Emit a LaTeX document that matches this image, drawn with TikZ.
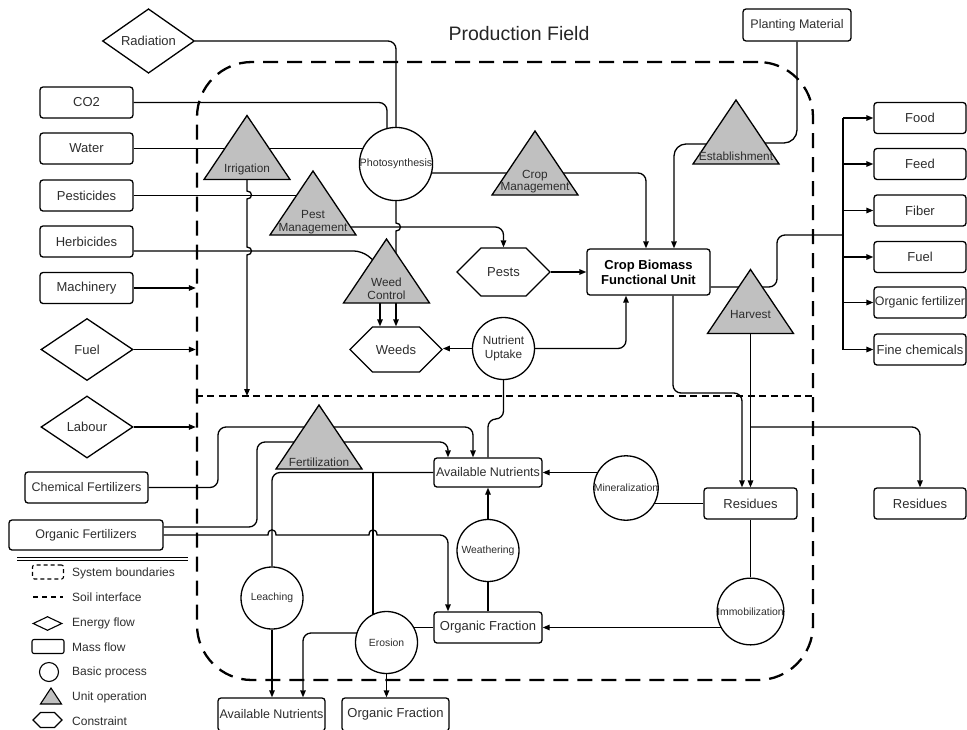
\documentclass[tikz,border=0pt]{standalone}
\usepackage{fontspec}
\setmainfont{Liberation Sans}
\usetikzlibrary{shapes.geometric,shapes.symbols,arrows.meta}
\pgfdeclarelayer{bg}
\pgfsetlayers{bg,main}
\definecolor{unitgray}{RGB}{192,192,192}
\definecolor{txt}{RGB}{45,45,45}

\tikzset{
  fs/.style 2 args={font=\fontsize{#1}{#2}\selectfont},
  base/.style={draw, line width=1.3pt, fill=white, inner sep=0pt, text=txt, align=center},
  mass/.style={base, rectangle, rounded corners=3pt, minimum width=93pt, minimum height=31pt, fs={13}{15}},
  energy/.style={base, diamond, minimum width=92pt, minimum height=62pt, fs={13}{15}},
  proc/.style={base, circle, minimum size=62pt, fs={10.4}{12}},
  cons/.style={base, signal, signal to=west and east, signal pointer angle=90,
    minimum width=93pt, minimum height=47pt, fs={13}{15}},
  unitop/.style={inner sep=0pt, minimum width=89pt, minimum height=67pt,
    path picture={\draw[line width=1.3pt, fill=unitgray]
      ([shift={(1.5pt,1.5pt)}]path picture bounding box.south west) --
      ([shift={(-1.5pt,1.5pt)}]path picture bounding box.south east) --
      ([yshift=-1.5pt]path picture bounding box.north) -- cycle;}},
  ulabel/.style={fs={11.8}{12.6}, text=txt, align=center, inner sep=0pt},
  conn/.style={line width=1.3pt, rounded corners=8pt},
  arr/.style={conn, -{Triangle[length=7pt,width=5.5pt]}},
  legtxt/.style={anchor=west, inner sep=0pt, text=txt, fs={12}{14}},
  legsym/.style={base, line width=1.1pt},
}

\begin{document}
\begin{tikzpicture}[x=1pt,y=-1pt]
\useasboundingbox (0,0) rectangle (967,729);

% title and system boundary
\node[fs={19.5}{22}, text=black!85] (title) at (519,34) {Production Field};
\node[draw, line width=2.3pt, dash pattern=on 15pt off 9pt, rounded corners=55pt,
      minimum width=616pt, minimum height=618pt, inner sep=0pt] (sys) at (505,371) {};
\coordinate (soilL) at (sys.west |- 0,396);
\coordinate (soilR) at (sys.east |- 0,396);
\draw[line width=1.4pt, dash pattern=on 7pt off 4.5pt] (soilL) -- (soilR);

% inputs
\node[energy] (rad) at (148.5,41) {Radiation};
\node[mass] (co2) at (86.5,102.5) {CO2};
\node[mass] (water) at (86.5,148.5) {Water};
\node[mass] (pest) at (86.5,195.5) {Pesticides};
\node[mass] (herb) at (86.5,241.5) {Herbicides};
\node[mass] (mach) at (86.5,288) {Machinery};
\node[energy] (fuel) at (87,349.5) {Fuel};
\node[energy] (labour) at (87,427) {Labour};
\node[mass, minimum width=123pt, fs={12.5}{14}] (chemF) at (86.5,487.5) {Chemical Fertilizers};
\node[mass, minimum width=154pt, minimum height=30pt, fs={12.5}{14}] (orgF) at (86,535) {Organic Fertilizers};
\node[mass, minimum width=108pt, minimum height=32pt, fs={12.5}{14}] (plant) at (797,25) {Planting Material};

% unit operations
\node[unitop, label={[ulabel,yshift=-21.5pt]center:Irrigation}] (irr) at (247,147.5) {};
\node[unitop, label={[ulabel,yshift=-19pt]center:{Pest\\Management}}] (pm) at (313,203) {};
\node[unitop, label={[ulabel,yshift=-18.5pt]center:{Crop\\Management}}] (cm) at (535,163) {};
\node[unitop, label={[ulabel,yshift=-18pt]center:{Weed\\Control}}] (wc) at (386.5,271) {};
\node[unitop, label={[ulabel,yshift=-24pt]center:Establishment}] (estab) at (736,132) {};
\node[unitop, label={[ulabel,yshift=-12.5pt]center:Harvest}] (harv) at (750.5,301.5) {};
\node[unitop, label={[ulabel,yshift=-25pt]center:Fertilization}] (fert) at (319,437) {};

% processes
\node[proc, fs={10.7}{12}] (photo) at (396,164) {Photosynthesis};
\node[proc, fs={11.8}{13.3}] (uptake) at (503.5,348.5) {Nutrient\\Uptake};
\node[proc] (mineral) at (626,488) {Mineralization};
\node[proc] (weather) at (488,550.5) {Weathering};
\node[proc] (leach) at (272,598) {Leaching};
\node[proc] (erosion) at (386.5,642.5) {Erosion};
\node[proc] (immo) at (750.5,611.5) {Immobilization};

% constraints
\node[cons, minimum height=48pt] (pests) at (503.5,272) {Pests};
\node[cons, minimum width=92pt, minimum height=45pt] (weeds) at (396,349.5) {Weeds};

% crop and soil pools
\node[base, rectangle, rounded corners=3pt, minimum width=123pt, minimum height=46pt,
      font=\fontsize{13}{15}\selectfont\bfseries, text=black] (cbu) at (648.5,272) {Crop Biomass\\Functional Unit};
\node[mass, minimum width=108pt, minimum height=29pt, fs={12.5}{14}] (avail) at (488,472.5) {Available Nutrients};
\node[mass, minimum width=108pt] (orgfrac) at (488,627.5) {Organic Fraction};
\node[mass] (resid) at (750.5,503.5) {Residues};
\node[mass, minimum width=92pt] (residR) at (920,503.5) {Residues};
\node[mass, minimum width=107pt, minimum height=33pt, fs={12.5}{14}] (availB) at (271.5,714.5) {Available Nutrients};
\node[mass, minimum width=107pt, minimum height=33pt] (orgfracB) at (395.5,714.5) {Organic Fraction};

% products
\node[mass, minimum width=92pt] (food) at (920,118) {Food};
\node[mass, minimum width=92pt] (feed) at (920,164) {Feed};
\node[mass, minimum width=92pt] (fiber) at (920,210.5) {Fiber};
\node[mass, minimum width=92pt] (fuelo) at (920,257) {Fuel};
\node[mass, minimum width=92pt, fs={12.4}{14}] (orgfert) at (920,302.5) {Organic fertilizer};
\node[mass, minimum width=92pt] (fine) at (920,349.5) {Fine chemicals};
\coordinate (tx) at (843,0);

% flows
\begin{pgfonlayer}{bg}
  \draw[conn] (rad.east) -| (photo.center);
  \draw[conn] (co2.east) -| ([xshift=-9pt]photo.center);
  \draw[conn] (water.east) -- (water.east -| photo.center);
  \draw[conn, sharp corners] (photo.center) -- (396,223)
      .. controls (402,223) and (402,231) .. (396,231) -- (photo.center |- wc.center);
  \draw[arr] ([yshift=-9pt]photo.center) -| ([xshift=-2.5pt]cbu.north);

  \draw[arr, sharp corners] (irr.center) -- (247,191)
      .. controls (253,191) and (253,199) .. (247,199) -- (247,247)
      .. controls (253,247) and (253,255) .. (247,255) -- (irr.center |- soilL);
  \draw[conn] (pest.east) -- (pm.center |- pest.east);
  \draw[conn] ([yshift=-9.5pt]herb.east) -- (362,251) -- (wc.center);
  \draw[arr] (pm.center |- 0,227) -| (pests.north);
  \draw[arr] ([xshift=-16pt]weeds.north |- wc.center) -- ([xshift=-16pt]weeds.north);
  \draw[arr] (weeds.north |- wc.center) -- (weeds.north);
  \draw[arr] (pests.east) -- (cbu.west);

  \draw[arr] (uptake.west) -- (uptake.west -| weeds.east);
  \draw[arr] (uptake.east) -| ([xshift=-22.5pt]cbu.south);
  \draw[conn] (avail.north) |- (uptake.south |- 0,419) -- (uptake.south);

  \draw[conn, rounded corners=13pt] (plant.south) |- ([shift={(20pt,-11pt)}]estab.center);
  \draw[arr, rounded corners=12pt] ([shift={(-20pt,-12pt)}]estab.center) -| ([xshift=25.5pt]cbu.north);

  \draw[conn] ([yshift=-15pt]cbu.east) -- (777,287) -- (777,235) -- (tx |- 0,235);
  \draw[conn, sharp corners] (tx |- food.west) -- (tx |- fine.west);
  \foreach \p in {food,feed,fiber,fuelo,orgfert,fine}
    \draw[arr] (tx |- \p.west) -- (\p.west);

  \draw[arr] (harv.center) -- (harv.center |- resid.north);
  \draw[arr] (harv.center |- 0,427) -| (residR.north);
  \draw[arr] ([xshift=24.5pt]cbu.south) |- ([xshift=-8.5pt]resid.north |- 0,393) -- ([xshift=-8.5pt]resid.north);

  \draw[arr] (mach.east) -- (mach.east -| sys.west);
  \draw[arr] (fuel.east) -- (fuel.east -| sys.west);
  \draw[arr] (labour.east) -- (labour.east -| sys.west);

  \draw[conn] (resid.west) -- (mineral.center |- resid.west);
  \draw[arr] (mineral.center |- avail.east) -- (avail.east);
  \draw[conn] (resid.south) -- (immo.north);
  \draw[arr] (immo.center |- orgfrac.east) -- (orgfrac.east);
  \draw[conn] (orgfrac.north) -- (weather.south);
  \draw[arr] (weather.north) -- (avail.south);
  \draw[conn] (orgfrac.west) -- (erosion.center |- orgfrac.west);

  \draw[conn] (avail.west) -| (leach.north);
  \draw[conn] (avail.west -| 373,0) -- (erosion.center -| 373,0);
  \draw[arr] ([yshift=9.5pt]erosion.center) -| ([xshift=31.5pt]availB.north);
  \draw[arr] (erosion.south) -- (erosion.south |- orgfracB.north);
  \draw[arr] (leach.south) -- (leach.south |- availB.north);

  \draw[arr] (chemF.east) -- (chemF.east -| 218,0) -- (218,427) -| ([xshift=-15pt]avail.north);
  \draw[arr] ([yshift=8pt]orgF.east) -- (257,527) -- (257,442) -| ([xshift=-40pt]avail.north);
  \draw[arr, sharp corners] (orgF.east) -- (268,535)
      .. controls (268,528) and (276,528) .. (276,535) -- (369,535)
      .. controls (369,528) and (377,528) .. (377,535) -- (380,535)
      [rounded corners=8pt] -| ([xshift=-40pt]orgfrac.north);
\end{pgfonlayer}

% legend
\draw[line width=0.8pt] (17,557) -- (188,557) (17,560.5) -- (188,560.5);
\node[draw, line width=1.1pt, dash pattern=on 4pt off 3pt, rounded corners=2pt,
      minimum width=31pt, minimum height=14pt, inner sep=0pt] (lgsys) at (48,572) {};
\draw[line width=1.1pt, dash pattern=on 5pt off 4pt] (33,597) -- (63,597);
\node[legsym, diamond, minimum width=29pt, minimum height=14pt] (lgen) at (47.5,623.5) {};
\node[legsym, rectangle, rounded corners=2pt, minimum width=32pt, minimum height=14pt] (lgmass) at (48,646.5) {};
\node[legsym, circle, minimum size=19pt] (lgproc) at (49,672) {};
\draw[line width=1.1pt, fill=unitgray] (40.5,704) -- (61.5,704) -- (51,688) -- cycle;
\node[legsym, signal, signal to=west and east, signal pointer angle=90,
      minimum width=29pt, minimum height=15pt] (lgcons) at (47.5,720) {};
\node[legtxt] (l1) at (72,573) {System boundaries};
\node[legtxt] (l2) at (72,597.5) {Soil interface};
\node[legtxt] (l3) at (72,623) {Energy flow};
\node[legtxt] (l4) at (72,647) {Mass flow};
\node[legtxt] (l5) at (72,672) {Basic process};
\node[legtxt] (l6) at (72,697) {Unit operation};
\node[legtxt] (l7) at (72,721) {Constraint};
\end{tikzpicture}
\end{document}
